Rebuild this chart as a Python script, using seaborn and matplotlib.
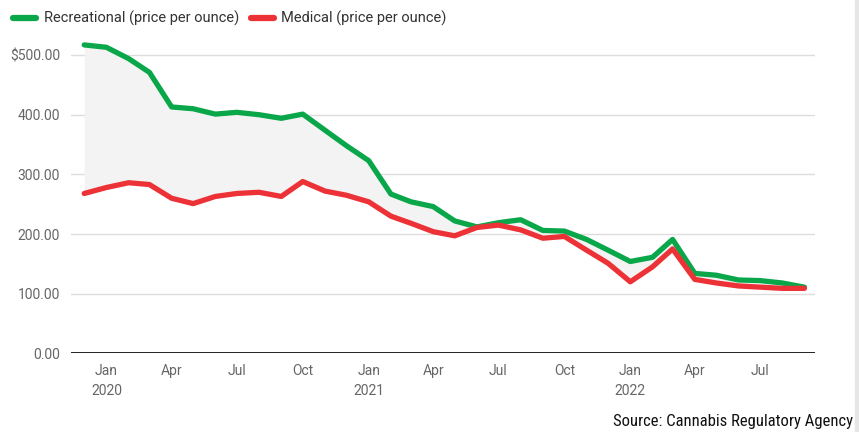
import matplotlib
matplotlib.use("Agg")
import matplotlib.pyplot as plt
import matplotlib.dates as mdates
from matplotlib import font_manager
import pandas as pd
import seaborn as sns

# monthly prices, Dec 2019 .. Sep 2022
months = pd.date_range("2019-12-01", periods=34, freq="MS")
recreational = [517, 513, 494, 471, 413, 410, 401, 404, 400, 394, 401, 374, 348,
                323, 267, 254, 246, 222, 212, 219, 224, 206, 205, 191, 173,
                154, 161, 191, 134, 131, 123, 122, 118, 111]
medical = [268, 278, 286, 283, 260, 251, 263, 268, 270, 263, 288, 272, 265,
           254, 230, 218, 204, 197, 211, 215, 207, 193, 196, 173, 151,
           120, 145, 175, 124, 118, 113, 111, 109, 109]
yticks = [0, 100, 200, 300, 400, 500]
ytick_labels = ["0.00", "100.00", "200.00", "300.00", "400.00", "$500.00"]

df = pd.DataFrame({"month": months, "rec": recreational, "med": medical})
long = df.melt(id_vars="month", value_vars=["rec", "med"],
               var_name="series", value_name="price")
long["series"] = long["series"].map({"rec": "Recreational (price per ounce)",
                                     "med": "Medical (price per ounce)"})

sns.set_style("white")
plt.rcParams["font.family"] = ["Roboto", "DejaVu Sans"]

green = "#0aa64a"
red = "#ec3237"

fig = plt.figure(figsize=(8.59, 4.32), dpi=100)
ax = fig.add_axes([0.083, 0.182, 0.866, 0.732])

ax.fill_between(df["month"], df["rec"], df["med"], color="#f3f3f3", lw=0, zorder=1)
sns.lineplot(data=long, x="month", y="price", hue="series",
             palette=[green, red], linewidth=3.8, ax=ax, legend=False, zorder=3)

ax.set_ylim(0, 530)
ax.set_xlim(pd.Timestamp("2019-11-13"), pd.Timestamp("2022-09-16"))
ax.set_yticks(yticks)
ax.set_yticklabels(ytick_labels)
ax.yaxis.grid(True, color="#dddddd", lw=1)
ax.set_axisbelow(True)
ax.axhline(0, color="#222222", lw=1.4, zorder=2)

ax.xaxis.set_major_locator(mdates.MonthLocator(bymonth=[1, 4, 7, 10]))
def fmt(x, pos):
    d = mdates.num2date(x)
    return d.strftime("%b\n%Y") if d.month == 1 else d.strftime("%b")
ax.xaxis.set_major_formatter(plt.FuncFormatter(fmt))

ax.tick_params(axis="both", length=0, labelsize=10, labelcolor="#666666")
ax.tick_params(axis="x", pad=8)
ax.tick_params(axis="y", pad=8)
for lbl in ax.get_xticklabels():
    lbl.set_linespacing(1.5)
for s in ax.spines.values():
    s.set_visible(False)
ax.set_xlabel("")
ax.set_ylabel("")

handles = [plt.Line2D([], [], color=green, lw=4.5, solid_capstyle="round"),
           plt.Line2D([], [], color=red, lw=4.5, solid_capstyle="round")]
fig.legend(handles, ["Recreational (price per ounce)", "Medical (price per ounce)"],
           loc="upper left", bbox_to_anchor=(0.0, 1.005), ncol=2, frameon=False,
           fontsize=10.5, handlelength=1.6, handletextpad=0.5, columnspacing=0.8,
           labelcolor="#333333")

names = {f.name for f in font_manager.fontManager.ttflist}
narrow = [f for f in ["Roboto Condensed", "Liberation Sans Narrow",
                      "Open Sans Condensed", "Roboto"] if f in names] + ["DejaVu Sans"]
fig.text(0.993, 0.006, "Source: Cannabis Regulatory Agency", fontsize=12,
         family=narrow, stretch="condensed", color="#111111", ha="right", va="bottom")

# light border strip at the right edge
fig.patches.append(plt.Rectangle((0.995, 0), 0.005, 1, transform=fig.transFigure,
                                 color="#e6e6e6", zorder=0))

fig.savefig("out.png", dpi=100)
